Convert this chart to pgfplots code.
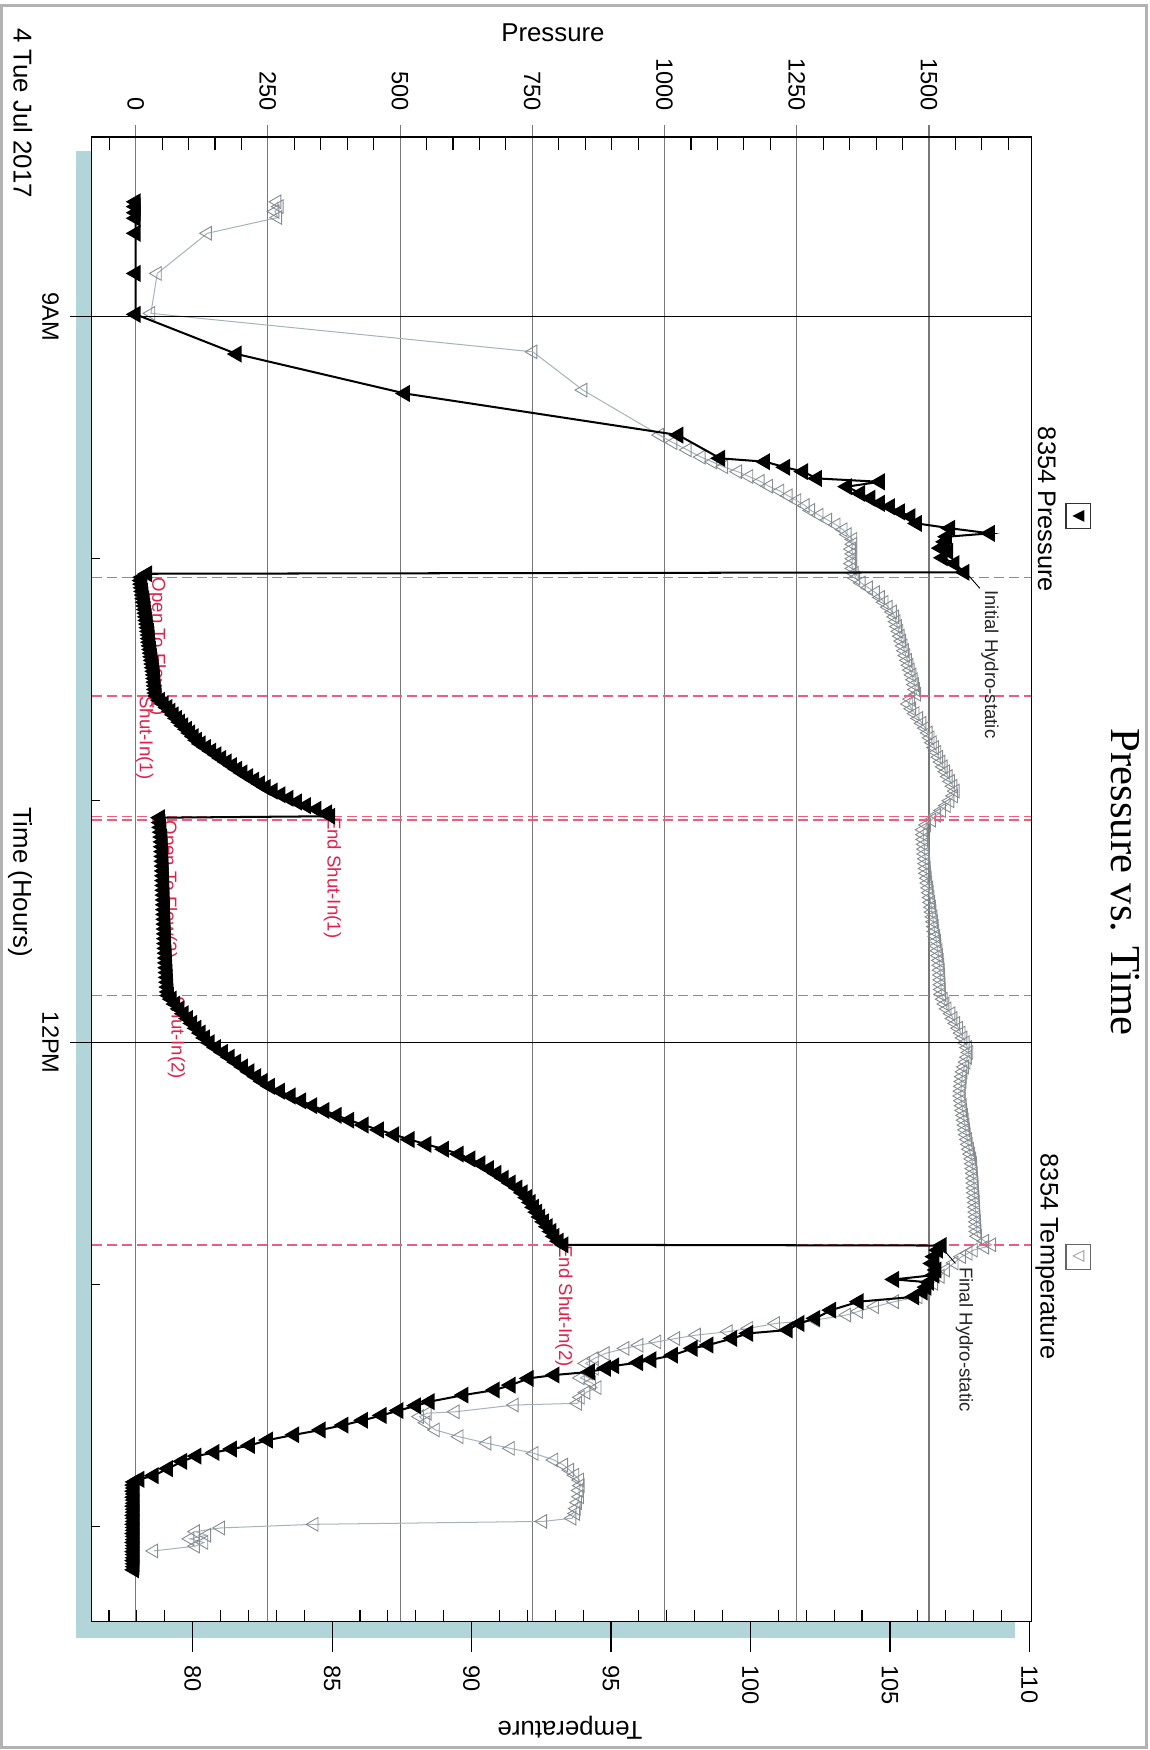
\documentclass[border=0pt]{standalone}
\usepackage{fontspec}
\setmainfont{Liberation Sans}
\newfontfamily\seriffont{Liberation Serif}
\newfontfamily\symfont{DejaVu Sans}
\usepackage{pgfplots}
\usepackage{pgfplotstable}
\pgfplotsset{compat=1.18}
\definecolor{shadowc}{RGB}{178,213,217}
\definecolor{evtline}{RGB}{238,92,128}
\definecolor{evttext}{RGB}{228,32,72}
\definecolor{tline}{RGB}{165,180,188}
\definecolor{tmark}{RGB}{135,140,145}
\definecolor{pgrid}{RGB}{120,120,120}

\pgfplotstableread{
p t
0 8.525
0 8.545
0 8.57
0 8.593
0 8.655
0 8.821
0 8.99
191 9.154
509 9.317
1026 9.489
1105 9.585
1190 9.599
1228 9.622
1262 9.64
1288 9.668
1407 9.682
1345 9.702
1370 9.73
1389 9.75
1407 9.771
1426 9.785
1445 9.806
1465 9.826
1477 9.854
1540 9.874
1615 9.895
1534 9.909
1530 9.93
1522 9.956
1536 9.97
1526 9.996
1548 10.02
1567 10.056
22 10.062
12 10.077
11 10.09
12 10.105
13 10.12
14 10.135
15 10.15
16 10.165
17 10.18
18 10.195
19 10.21
20 10.225
21 10.24
22 10.255
23 10.27
24 10.285
25 10.30
26 10.315
26.5 10.33
27 10.345
28 10.36
29 10.375
30 10.39
31 10.405
32 10.42
33 10.435
34 10.45
35 10.465
36 10.48
36.5 10.495
37 10.51
37.5 10.525
38 10.54
39 10.555
40 10.567
46 10.585
53 10.60
60 10.615
66 10.63
72 10.645
78 10.66
84 10.675
90 10.69
97 10.705
103 10.72
110 10.735
116 10.75
123 10.765
133 10.78
143 10.795
153 10.81
162 10.825
172 10.84
182 10.855
192 10.87
202 10.885
213 10.90
224 10.915
235 10.93
246 10.945
259 10.96
274 10.975
289 10.99
305 11.005
322 11.02
342 11.035
362 11.05
368 11.064
46 11.07
47 11.09
48 11.11
49 11.13
50 11.15
50.5 11.17
51 11.19
51.5 11.21
52 11.23
52.3 11.25
52.6 11.27
52.9 11.29
53.2 11.31
53.5 11.33
53.8 11.35
54 11.37
54.3 11.39
54.6 11.41
54.9 11.43
55.2 11.45
55.5 11.47
55.8 11.49
56.1 11.51
56.4 11.53
56.7 11.55
57 11.57
57.4 11.59
57.8 11.61
58.2 11.63
58.6 11.65
59 11.67
59.5 11.69
60 11.71
60.5 11.73
61 11.75
61.6 11.77
62.2 11.79
63 11.805
68 11.82
75 11.84
83 11.86
91 11.88
99 11.90
107 11.92
115 11.94
123 11.96
131 11.98
140 12.00
152 12.02
165 12.04
178 12.06
190 12.08
203 12.10
215 12.12
228 12.14
240 12.16
254 12.18
273 12.20
293 12.22
313 12.24
334 12.26
357 12.28
380 12.30
404 12.32
431 12.34
460 12.36
489 12.38
518 12.40
550 12.42
583 12.44
611 12.46
633 12.48
652 12.50
668 12.52
682 12.54
696 12.56
709 12.58
722 12.60
732 12.62
740 12.64
747 12.66
753 12.68
759 12.70
765 12.72
772 12.74
779 12.76
786 12.78
792 12.80
800 12.82
809 12.835
1524 12.838
1517 12.857
1510 12.884
1506 12.912
1514 12.939
1510 12.96
1434 12.978
1500 12.99
1495 13.01
1488 13.03
1472 13.05
1367 13.07
1315 13.105
1285 13.139
1255 13.16
1233 13.187
1158 13.201
1128 13.222
1083 13.249
1053 13.263
1016 13.291
975 13.31
950 13.322
905 13.335
889 13.345
859 13.36
792 13.373
743 13.387
709 13.415
679 13.435
620 13.456
556 13.483
530 13.50
497 13.52
465 13.54
430 13.56
393 13.58
350 13.60
300 13.62
250 13.642
216 13.664
182 13.679
149 13.693
115 13.708
88 13.73
61 13.76
34 13.789
7 13.804
-2 13.815
-3 13.828
-2 13.84
-3 13.853
-2 13.865
-3 13.878
-2 13.89
-2 13.903
-3 13.915
-2 13.928
-2 13.94
-3 13.953
-2 13.965
-2 13.978
-3 13.99
-2 14.003
-2 14.015
-3 14.028
-2 14.04
-2 14.053
-3 14.065
-2 14.078
-2 14.09
-3 14.103
-2 14.115
-2 14.128
-3 14.14
-2 14.153
-2 14.165
-3 14.178
}\presdata

\pgfplotstableread{
T t
83.02 8.525
83.1 8.545
82.95 8.565
83.05 8.59
80.53 8.655
78.73 8.821
78.5 8.986
92.2 9.145
93.99 9.303
96.74 9.489
97.22 9.52
97.73 9.55
98.23 9.58
98.64 9.60
99.04 9.62
99.54 9.64
99.94 9.66
100.35 9.68
100.65 9.70
101.05 9.72
101.35 9.74
101.66 9.76
101.96 9.78
102.16 9.80
102.46 9.82
102.77 9.84
103.07 9.86
103.32 9.88
103.47 9.90
103.67 9.92
103.67 9.94
103.62 9.96
103.67 9.98
103.67 10.00
103.62 10.02
103.67 10.04
103.72 10.06
103.77 10.08
103.97 10.10
104.23 10.12
104.48 10.14
104.66 10.16
104.79 10.18
104.94 10.20
105.09 10.22
105.17 10.24
105.22 10.26
105.27 10.28
105.32 10.30
105.37 10.32
105.42 10.34
105.47 10.36
105.52 10.38
105.57 10.40
105.63 10.42
105.68 10.44
105.73 10.46
105.79 10.48
105.84 10.50
105.88 10.52
105.92 10.54
105.96 10.56
105.74 10.58
105.66 10.60
105.78 10.62
105.9 10.64
106.03 10.66
106.15 10.68
106.27 10.70
106.37 10.72
106.44 10.74
106.52 10.76
106.6 10.78
106.68 10.80
106.75 10.82
106.83 10.84
106.91 10.86
107.0 10.88
107.09 10.90
107.17 10.92
107.26 10.94
107.34 10.96
107.28 10.98
107.15 11.00
107.02 11.02
106.85 11.04
106.67 11.06
106.49 11.08
106.31 11.10
106.19 11.12
106.2 11.14
106.21 11.16
106.23 11.18
106.24 11.20
106.25 11.22
106.27 11.24
106.28 11.26
106.3 11.28
106.31 11.30
106.34 11.32
106.36 11.34
106.39 11.36
106.41 11.38
106.44 11.40
106.46 11.42
106.49 11.44
106.51 11.46
106.54 11.48
106.56 11.50
106.59 11.52
106.61 11.54
106.64 11.56
106.67 11.58
106.69 11.60
106.72 11.62
106.74 11.64
106.77 11.66
106.79 11.68
106.8 11.70
106.81 11.72
106.82 11.74
106.83 11.76
106.84 11.78
106.85 11.80
106.91 11.82
106.97 11.84
107.05 11.86
107.19 11.88
107.26 11.90
107.36 11.92
107.46 11.94
107.55 11.96
107.62 11.98
107.7 12.00
107.78 12.02
107.83 12.04
107.78 12.06
107.73 12.08
107.67 12.10
107.62 12.12
107.59 12.14
107.58 12.16
107.56 12.18
107.55 12.20
107.54 12.22
107.56 12.24
107.59 12.26
107.61 12.28
107.64 12.30
107.66 12.32
107.69 12.34
107.71 12.36
107.74 12.38
107.78 12.40
107.81 12.42
107.85 12.44
107.89 12.46
107.93 12.48
107.96 12.50
107.97 12.52
107.99 12.54
108.0 12.56
108.01 12.58
108.02 12.60
108.03 12.62
108.05 12.64
108.06 12.66
108.07 12.68
108.08 12.70
108.09 12.72
108.1 12.74
108.11 12.76
108.12 12.78
108.14 12.80
108.4 12.82
108.65 12.835
108.4 12.845
107.99 12.857
107.8 12.87
107.57 12.884
107.3 12.91
106.99 12.939
106.8 12.965
106.57 12.994
106.29 13.02
106.01 13.05
105.16 13.07
104.45 13.091
103.87 13.11
103.45 13.125
102.32 13.146
100.9 13.16
99.94 13.18
99.2 13.194
98.06 13.208
97.32 13.222
96.64 13.236
96.0 13.25
95.5 13.263
94.79 13.284
94.4 13.305
94.09 13.325
94.4 13.345
94.2 13.365
93.9 13.385
94.3 13.405
94.5 13.425
94.1 13.445
93.9 13.465
93.8 13.49
91.53 13.497
89.41 13.525
88.41 13.531
88.13 13.545
88.36 13.57
88.7 13.60
89.55 13.628
90.55 13.655
91.39 13.676
92.24 13.697
92.95 13.724
93.3 13.745
93.52 13.766
93.7 13.787
93.87 13.807
93.9 13.83
93.85 13.85
93.87 13.876
93.8 13.9
93.75 13.925
93.73 13.945
93.6 13.965
92.55 13.978
84.35 13.99
81.0 14.005
80.1 14.02
80.5 14.035
79.9 14.05
80.4 14.065
80.1 14.08
78.6 14.1
}\tempdata

\pgfplotsset{base/.style={at={(40.82pt,-722.46pt)}, anchor=south west,
  scale only axis, width=418.74pt, height=661.55pt,
  ymin=8.256, ymax=14.391, y dir=reverse,
  axis line style={black,line width=0.7pt}, tick align=inside,
  tick label style={inner sep=0pt, font=\fontsize{10.5}{12}\selectfont}}}

\begin{document}
\begin{tikzpicture}
\path[use as bounding box] (0pt,0pt) rectangle (512pt,-779.8pt);
\fill[white] (0pt,0pt) rectangle (512pt,-779.8pt);
\draw[gray!60, line width=1.2pt] (0.8pt,-2.5pt) rectangle (510.8pt,-778.6pt);
\fill[shadowc] (33.87pt,-67.3pt) rectangle (452.2pt,-730.0pt);

% pressure axis (top) with its grid
\begin{axis}[base, xmin=-83.2, xmax=1693.4,
  axis background/.style={fill=white},
  xtick={0,250,500,750,1000,1250,1500},
  xticklabels={0,250,500,750,1000,1250,1500},
  minor xtick={-50,50,100,150,200,300,350,400,450,550,600,650,700,800,850,900,950,1050,1100,1150,1200,1300,1350,1400,1450,1550,1600,1650},
  xtick pos=upper, xticklabel pos=upper,
  major tick length=-5.2pt, minor tick length=5.8pt,
  xmajorgrids, grid style={pgrid, line width=0.5pt},
  major tick style={pgrid, line width=0.5pt},
  minor tick style={black, line width=0.5pt},
  xticklabel style={rotate=-90, anchor=east}, xticklabel shift=11.5pt,
  ytick=\empty]
\addplot[draw=none, forget plot] coordinates {(0,9)};
\end{axis}

% temperature axis (bottom) with temperature data
\begin{axis}[base, xmin=76.375, xmax=110.07,
  xtick={80,85,90,95,100,105,110},
  xticklabels={80,85,90,95,100,105,110},
  minor xtick={77,78,79,81,82,83,84,86,87,88,89,91,92,93,94,96,97,98,99,101,102,103,104,106,107,108,109},
  xtick pos=lower, xticklabel pos=lower,
  major tick length=-13.6pt, minor tick length=4.9pt,
  major tick style={black, line width=0.5pt},
  minor tick style={black, line width=0.5pt},
  xticklabel style={rotate=-90, anchor=west}, xticklabel shift=19.5pt,
  ytick=\empty]
\addplot[tline, line width=0.45pt, mark=triangle, mark size=3.5pt,
  mark options={rotate=90, draw=tmark, line width=0.4pt, solid}]
  table[x=T, y=t] {\tempdata};
\end{axis}

% time axis with pressure data and events
\begin{axis}[base, xmin=-83.2, xmax=1693.4, xtick=\empty,
  ytick={9,12}, yticklabels={9AM,12PM}, minor ytick={10,11,13,14},
  ytick pos=left, yticklabel pos=left,
  major tick length=-9.6pt, minor tick length=3.7pt,
  ymajorgrids, grid style={black, line width=0.6pt},
  major tick style={black, line width=0.6pt},
  minor tick style={black, line width=0.5pt},
  yticklabel style={rotate=-90, anchor=center}, yticklabel shift=18.3pt]
\pgfplotsset{evt/.style={evtline, line width=0.6pt, dash pattern=on 4.5pt off 2.2pt, forget plot, no markers}}
\addplot[evt] coordinates {(-83.2,10.077) (1693.4,10.077)};
\addplot[evt] coordinates {(-83.2,10.567) (1693.4,10.567)};
\addplot[evt] coordinates {(-83.2,11.066) (1693.4,11.066)};
\addplot[evt] coordinates {(-83.2,11.08) (1693.4,11.08)};
\addplot[evt] coordinates {(-83.2,11.806) (1693.4,11.806)};
\addplot[evt] coordinates {(-83.2,12.836) (1693.4,12.836)};
\addplot[black, line width=0.4pt, forget plot] coordinates {(1571,10.06) (1596,10.122)};
\addplot[black, line width=0.4pt, forget plot] coordinates {(1524,12.847) (1550,12.912)};
\addplot[black, line width=0.9pt, mark=triangle*, mark size=3.5pt,
  mark options={rotate=90, solid, fill=black}]
  table[x=p, y=t] {\presdata};
\tikzset{evl/.style={rotate=-90, anchor=west, inner sep=0pt, text=evttext, font=\fontsize{8.3}{9}\selectfont}}
\node[evl] at (axis cs:40.6,10.077) {Open To Flow(1)};
\node[evl] at (axis cs:17.3,10.567) {Shut-In(1)};
\node[evl] at (axis cs:372,11.066) {End Shut-In(1)};
\node[evl] at (axis cs:62,11.08) {Open To Flow(2)};
\node[evl] at (axis cs:77,11.806) {Shut-In(2)};
\node[evl] at (axis cs:810,12.836) {End Shut-In(2)};
\node[evl, text=black!85] at (axis cs:1615,10.129) {Initial Hydro-static};
\node[evl, text=black!85] at (axis cs:1567,12.925) {Final Hydro-static};
\end{axis}

\node[font=\fontsize{11.5}{13}\selectfont] at (246.4pt,-14.5pt) {Pressure};
\node[rotate=180, font=\fontsize{11.5}{13}\selectfont] at (254pt,-770pt) {Temperature};
\node[rotate=-90, font=\fontsize{11.5}{13}\selectfont] at (8.9pt,-393pt) {Time (Hours)};
\node[rotate=-90, anchor=west, inner sep=0pt, font=\fontsize{11.5}{13}\selectfont] at (10.2pt,-12.4pt) {4 Tue Jul 2017};
\node[rotate=-90, font=\seriffont\fontsize{19}{22}\selectfont] at (501.5pt,-393pt) {Pressure vs. Time};
\node[rotate=-90, font=\fontsize{11.3}{13}\selectfont] at (466.5pt,-227pt) {8354 Pressure};
\node[draw=black!80, line width=0.5pt, minimum width=11pt, minimum height=11pt, inner sep=0pt] at (480.5pt,-230pt) {\symfont\fontsize{7}{7}\selectfont ◀};
\node[rotate=-90, font=\fontsize{11.3}{13}\selectfont] at (466.5pt,-560pt) {8354 Temperature};
\node[draw=black!60, line width=0.5pt, minimum width=11pt, minimum height=11pt, inner sep=0pt] at (480.5pt,-560pt) {\color{tmark}\symfont\fontsize{7}{7}\selectfont ◁};
\end{tikzpicture}
\end{document}
